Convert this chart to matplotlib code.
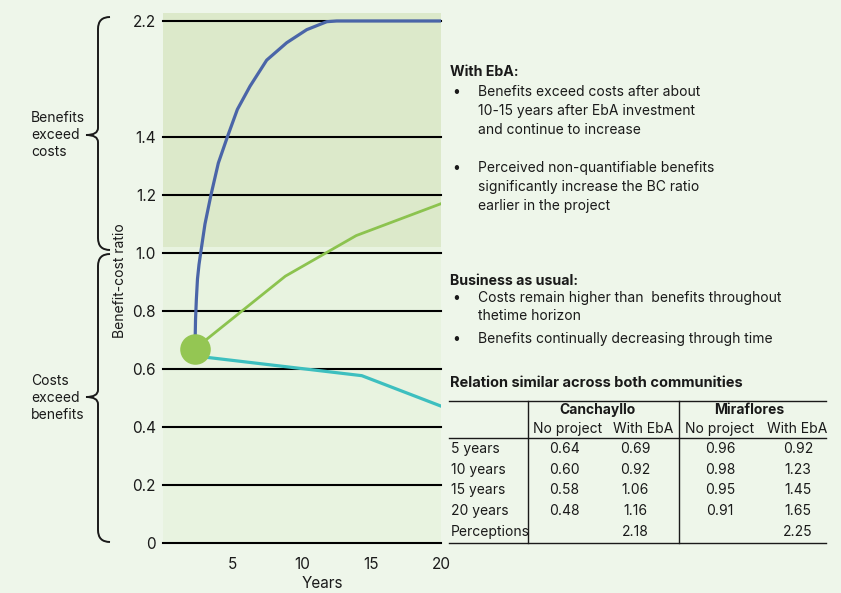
import matplotlib
matplotlib.use("Agg")
import matplotlib.pyplot as plt
import numpy as np
from matplotlib.lines import Line2D
from matplotlib.path import Path
from matplotlib.patches import PathPatch

plt.rcParams["font.family"] = ["Inter", "DejaVu Sans"]

# ---------------------------------------------------------------------------
# Data
# ---------------------------------------------------------------------------

start_year = 2.3
start_ratio = 0.67

# With EbA, including perceived benefits (steep rise, levelling off at 2.2)
perceived_years = [2.3, 2.34, 2.40, 2.48, 2.59, 2.71, 3.02, 3.45, 3.98, 4.63,
                   5.35, 6.26, 7.46, 8.90, 10.34, 11.78, 12.5, 20.0]
perceived_ratio = [0.67, 0.77, 0.84, 0.91, 0.96, 1.00, 1.10, 1.20, 1.31, 1.40,
                   1.59, 1.75, 1.93, 2.05, 2.14, 2.195, 2.20, 2.20]

# With EbA, quantified benefits only
eba_years = [2.3, 8.8, 13.9, 20.0]
eba_ratio = [0.67, 0.92, 1.06, 1.17]

# Business as usual
bau_years = [2.3, 14.3, 20.0]
bau_ratio = [0.645, 0.577, 0.472]

y_ticks = [0, 0.2, 0.4, 0.6, 0.8, 1.0, 1.2, 1.4, 2.2]
y_tick_labels = ["0", "0.2", "0.4", "0.6", "0.8", "1.0", "1.2", "1.4", "2.2"]
x_ticks = [5, 10, 15, 20]

# Table of BC ratios per community
row_labels = ["5 years", "10 years", "15 years", "20 years", "Perceptions"]
canchayllo_no_project = ["0.64", "0.60", "0.58", "0.48", ""]
canchayllo_with_eba = ["0.69", "0.92", "1.06", "1.16", "2.18"]
miraflores_no_project = ["0.96", "0.98", "0.95", "0.91", ""]
miraflores_with_eba = ["0.92", "1.23", "1.45", "1.65", "2.25"]

# ---------------------------------------------------------------------------
# Style
# ---------------------------------------------------------------------------

W, H = 841, 593
BG = "#eef6ea"
LIGHT = "#e8f3e0"
DARK = "#dce9ca"
BLUE = "#4a65a8"
GREEN = "#8cc34f"
DOT = "#94c653"
TEAL = "#3dbfbf"
INK = "#1a1a1a"


def fx(px):
    return px / W


def fy(py):
    return 1 - py / H


# axis break: values above 1.4 are compressed by half
def forward(v):
    v = np.asarray(v, dtype=float)
    return np.where(v <= 1.4, v, 1.4 + (v - 1.4) * 0.5)


def inverse(p):
    p = np.asarray(p, dtype=float)
    return np.where(p <= 1.4, p, 1.4 + (p - 1.4) * 2.0)


fig = plt.figure(figsize=(W / 100, H / 100), dpi=100, facecolor=BG)
ax = fig.add_axes([fx(163), fy(543), fx(441) - fx(163), fy(13) - fy(543)])
ax.set_facecolor(BG)
ax.set_yscale("function", functions=(forward, inverse))
ax.set_xlim(0, 20)
ax.set_ylim(0, 2.255)

ax.axhspan(1.02, 2.255, color=DARK, lw=0, zorder=0)
ax.axhspan(0, 1.02, color=LIGHT, lw=0, zorder=0)

for t in y_ticks:
    ax.axhline(t, color="black", lw=1.5, zorder=1, clip_on=False)

ax.plot(perceived_years, perceived_ratio, color=BLUE, lw=2.3, zorder=3,
        solid_joinstyle="round", solid_capstyle="butt")
ax.plot(eba_years, eba_ratio, color=GREEN, lw=2.0, zorder=3)
ax.plot(bau_years, bau_ratio, color=TEAL, lw=2.3, zorder=3)
ax.plot([start_year], [start_ratio], "o", ms=22, color=DOT, mec="none", zorder=4)

for s in ax.spines.values():
    s.set_visible(False)
ax.set_yticks(y_ticks)
ax.set_yticklabels(y_tick_labels)
ax.set_xticks(x_ticks)
ax.yaxis.set_minor_locator(matplotlib.ticker.NullLocator())
ax.tick_params(axis="both", length=0, labelsize=11, colors=INK)
ax.tick_params(axis="y", pad=5)
ax.tick_params(axis="x", pad=10)

fig.text(fx(322), fy(583), "Years", ha="center", va="center", fontsize=11, color=INK)
fig.text(fx(120), fy(281), "Benefit-cost ratio", rotation=90, ha="center", va="center",
         fontsize=10, color=INK)

# ---------------------------------------------------------------------------
# Curly braces on the left
# ---------------------------------------------------------------------------


def brace(top, bottom, tip, x=98, ext=110, tip_x=86):
    pts = [
        (ext, top), (x, top), (x, top + 12),
        (x, tip - 7),
        (x, tip), (tip_x, tip),
        (x, tip), (x, tip + 7),
        (x, bottom - 12),
        (x, bottom), (ext, bottom),
    ]
    codes = [Path.MOVETO, Path.CURVE3, Path.CURVE3,
             Path.LINETO,
             Path.CURVE3, Path.CURVE3,
             Path.CURVE3, Path.CURVE3,
             Path.LINETO,
             Path.CURVE3, Path.CURVE3]
    verts = [(fx(px), fy(py)) for px, py in pts]
    fig.add_artist(PathPatch(Path(verts, codes), transform=fig.transFigure,
                             fc="none", ec=INK, lw=1.4))


brace(17, 250, 135)
brace(254, 542, 397)

for i, line in enumerate(["Benefits", "exceed", "costs"]):
    fig.text(fx(31), fy(118 + 17 * i), line, ha="left", va="center", fontsize=10, color=INK)
for i, line in enumerate(["Costs", "exceed", "benefits"]):
    fig.text(fx(31), fy(381 + 17 * i), line, ha="left", va="center", fontsize=10, color=INK)

# ---------------------------------------------------------------------------
# Notes on the right
# ---------------------------------------------------------------------------


def heading(y, text, size=10.2):
    fig.text(fx(450), fy(y), text, ha="left", va="center", fontsize=size, fontweight="bold", color=INK)


def bullet(y, lines, step=19):
    fig.text(fx(452), fy(y), "•", ha="left", va="center", fontsize=10, color=INK)
    for i, line in enumerate(lines):
        fig.text(fx(478), fy(y + step * i), line, ha="left", va="center", fontsize=10, color=INK)


heading(72, "With EbA:")
bullet(92, ["Benefits exceed costs after about", "10-15 years after EbA investment", "and continue to increase"])
bullet(168, ["Perceived non-quantifiable benefits", "significantly increase the BC ratio", "earlier in the project"])

heading(281, "Business as usual:")
bullet(298, ["Costs remain higher than  benefits throughout", "thetime horizon"], step=18)
bullet(339, ["Benefits continually decreasing through time"])

heading(383, "Relation similar across both communities", size=10.5)

# table
def hline(y, x0=449, x1=826):
    fig.add_artist(Line2D([fx(x0), fx(x1)], [fy(y), fy(y)], color=INK, lw=1.0))


def vline(x, y0=401, y1=543):
    fig.add_artist(Line2D([fx(x), fx(x)], [fy(y0), fy(y1)], color=INK, lw=1.0))


hline(401)
hline(438)
hline(543)
vline(528)
vline(679)

fig.text(fx(597), fy(410), "Canchayllo", ha="center", va="center", fontsize=10, fontweight="bold", color=INK)
fig.text(fx(749), fy(410), "Miraflores", ha="center", va="center", fontsize=10, fontweight="bold", color=INK)
col_x = [568, 643, 720, 797]
for cx, label in zip(col_x, ["No project", "With EbA", "No project", "With EbA"]):
    fig.text(fx(cx), fy(429), label, ha="center", va="center", fontsize=10, color=INK)

cols = [canchayllo_no_project, canchayllo_with_eba, miraflores_no_project, miraflores_with_eba]
val_x = [564, 635, 720, 798]
for r, label in enumerate(row_labels):
    y = 449 + 20.7 * r
    fig.text(fx(451), fy(y), label, ha="left", va="center", fontsize=10, color=INK)
    for cx, col in zip(val_x, cols):
        fig.text(fx(cx), fy(y), col[r], ha="center", va="center", fontsize=10, color=INK)

fig.savefig("out.png", dpi=100, facecolor=BG)
